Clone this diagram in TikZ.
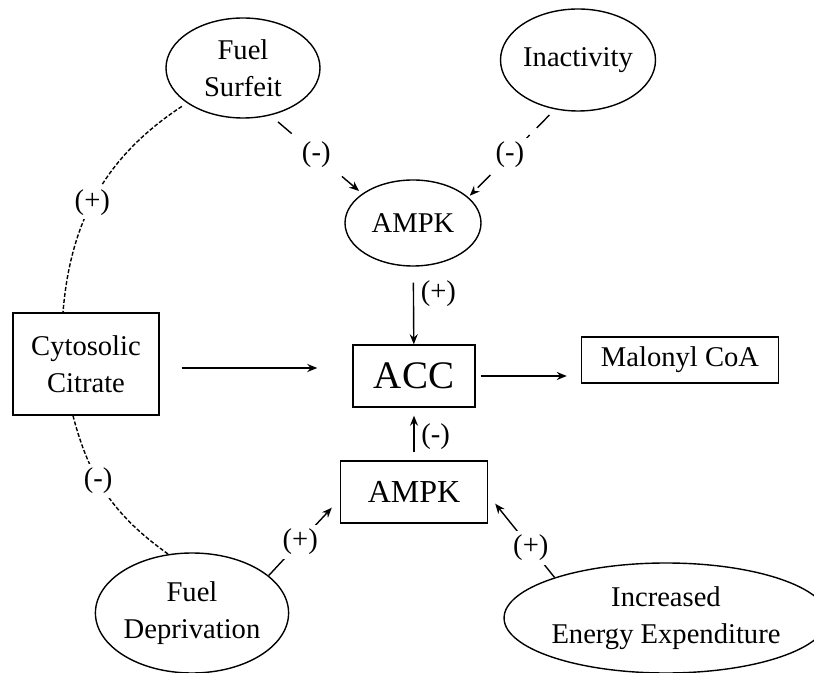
\documentclass[tikz,border=0pt]{standalone}
\usepackage{fontspec}
\setmainfont{Liberation Serif}
\usetikzlibrary{shapes.geometric,arrows.meta}

\tikzset{
  txt/.style={font=\fontsize{14.3}{18.5}\selectfont},
  oval/.style={draw, ellipse, inner sep=0pt, align=center, txt},
  box/.style={draw, rectangle, inner sep=0pt, align=center, txt},
  sign/.style={fill=white, inner sep=2pt, txt},
  arr/.style={-{Stealth[length=5pt,width=4pt]}},
  dotline/.style={dash pattern=on 2pt off 1pt},
  dashline/.style={dash pattern=on 9pt off 5pt}
}

\begin{document}
\begin{tikzpicture}[x=0.5pt,y=-0.5pt,line width=0.7pt]
        \useasboundingbox (0,0) rectangle (814,673);

        % Draw the ovals and boxes
        \node[oval, minimum width=77pt, minimum height=50pt] (surfeit) at (243,68) {Fuel\\Surfeit};
        \node[oval, minimum width=77pt, minimum height=51pt] (inact) at (578,60) {Inactivity};
        \node[oval, minimum width=68pt, minimum height=43pt] (ampktop) at (413,223) {AMPK};
        \node[box, minimum width=73pt, minimum height=51pt] (citrate) at (86,364) {Cytosolic\\Citrate};
        \node[box, minimum width=61pt, minimum height=31pt, font=\fontsize{19.5}{22}\selectfont] (acc) at (414,376) {ACC};
        \node[box, minimum width=98.5pt, minimum height=23pt] (malonyl) at (680,360) {Malonyl CoA};
        \node[box, minimum width=73.5pt, minimum height=31pt, font=\fontsize{16}{19}\selectfont] (ampkbot) at (414,492) {AMPK};
        \node[oval, minimum width=92pt, minimum height=60pt] (depriv) at (192,613) {Fuel\\Deprivation};
        \node[oval, minimum width=148pt, minimum height=55pt] (energy) at (666,618) {Increased\\Energy Expenditure};

        % Inhibition of AMPK from above
        \draw[arr, dashline, shorten <=5pt, shorten >=2pt] (surfeit.-60) --
              node[sign, pos=0.5] {(-)} (ampktop.150);
        \draw[arr, dashline, shorten <=4pt, shorten >=1pt] (inact.245) --
              node[sign, pos=0.52] {(-)} (ampktop.25);

        % AMPK acting on ACC
        \draw[arr, shorten <=8pt] (ampktop) -- (acc) node[right, txt, pos=0.35] {(+)};
        \draw[arr, shorten <=4pt, shorten >=4pt] (ampkbot) -- (acc) node[right, txt, pos=0.45] {(-)};

        % Citrate feeds ACC, ACC gives malonyl CoA
        \draw[arr] ([xshift=11pt,yshift=-2pt]citrate.east) -- ([xshift=-17.5pt,yshift=4pt]acc.west);
        \draw[arr] ([xshift=2.5pt]acc.east) -- ([xshift=-7pt,yshift=-8pt]malonyl.west);

        % Activation of the lower AMPK
        \draw[arr] (depriv.26) -- node[sign] {(+)} ([xshift=-4pt,yshift=8pt]ampkbot.south west);
        \draw[arr] (energy.160) -- node[sign, pos=0.4] {(+)} ([xshift=3.5pt,yshift=10pt]ampkbot.south east);

        % Fuel status and citrate
        \draw[dotline, shorten <=3pt] (surfeit.212) to[bend right=26]
              node[sign, pos=0.55] {(+)} ([xshift=-11.5pt]citrate.north);
        \draw[dotline] ([xshift=-6.5pt]citrate.south) to[bend right=20]
              node[sign, pos=0.4] {(-)} (depriv.112);
      \end{tikzpicture}
\end{document}
